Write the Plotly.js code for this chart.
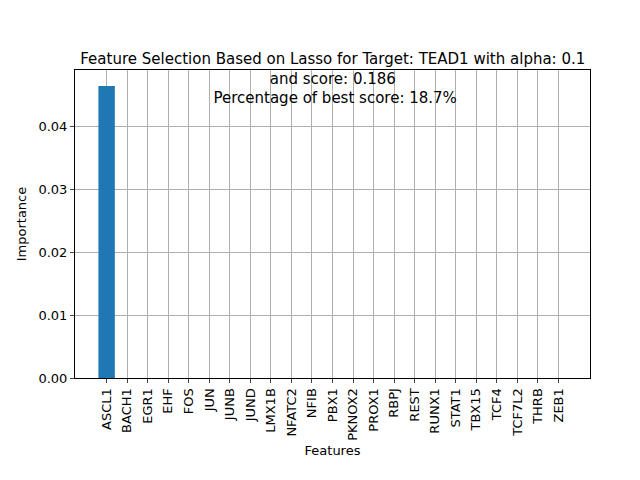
<!DOCTYPE html>
<html>
<head>
<script src="https://cdn.plot.ly/plotly-3.0.1.min.js"></script>
<style>body{margin:0}</style>
</head>
<body>
<div id="chart" style="width:640px;height:480px"></div>
<script>
// features and lasso importance values
var features = ["ASCL1","BACH1","EGR1","EHF","FOS","JUN","JUNB","JUND","LMX1B","NFATC2","NFIB","PBX1","PKNOX2","PROX1","RBPJ","REST","RUNX1","STAT1","TBX15","TCF4","TCF7L2","THRB","ZEB1"];
var importance = [0.04635,0,0,0,0,0,0,0,0,0,0,0,0,0,0,0,0,0,0,0,0,0,0];
var yTicks = [0, 0.01, 0.02, 0.03, 0.04];

var trace = {
  x: features.map(function(f, i){ return i; }),
  y: importance,
  type: "bar",
  width: 0.8,
  marker: {color: "#1f77b4"}
};

var layout = {
  width: 640, height: 480,
  margin: {l: 75, r: 50, t: 70, b: 102},
  font: {family: "DejaVu Sans", size: 13, color: "#000"},
  plot_bgcolor: "#fff", paper_bgcolor: "#fff",
  showlegend: false,
  title: {
    text: "Feature Selection Based on Lasso for Target: TEAD1 with alpha: 0.1<br>and score: 0.186<br> Percentage of best score: 18.7%",
    font: {size: 15}, x: 0.52, xanchor: "center",
    yref: "paper", y: 1, yanchor: "bottom", pad: {b: 6}
  },
  xaxis: {
    range: [-1.54, 23.54],
    tickvals: features.map(function(f, i){ return i; }),
    ticktext: features,
    tickangle: -90,
    ticks: "outside", ticklen: 4,
    showgrid: true, gridcolor: "#b0b0b0",
    showline: true, mirror: true, linecolor: "#000",
    zeroline: false,
    title: {text: "Features", font: {size: 13}, standoff: 6}
  },
  yaxis: {
    range: [0, 0.04889],
    tickvals: yTicks,
    ticktext: yTicks.map(function(v){ return v.toFixed(2); }),
    ticks: "outside", ticklen: 4,
    showgrid: true, gridcolor: "#b0b0b0",
    showline: true, mirror: true, linecolor: "#000",
    zeroline: false,
    title: {text: "Importance", font: {size: 13}, standoff: 8}
  }
};

Plotly.newPlot("chart", [trace], layout, {displayModeBar: false});
</script>
</body>
</html>
